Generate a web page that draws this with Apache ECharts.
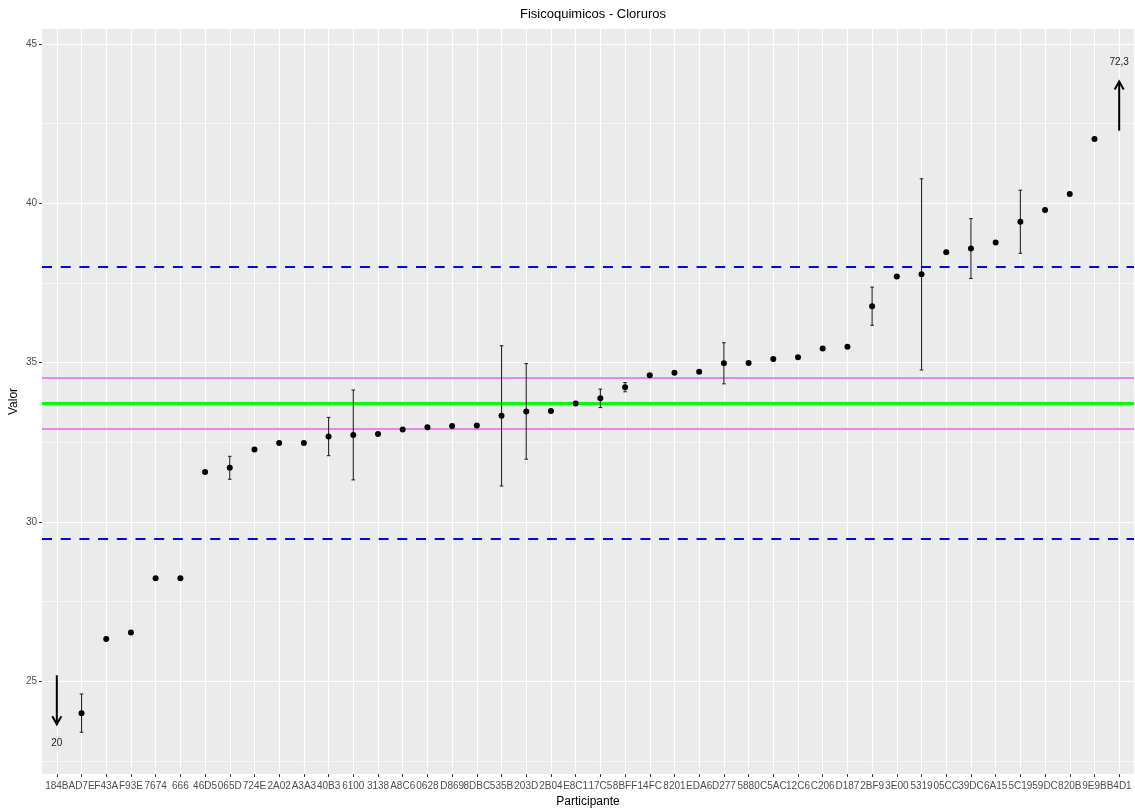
<!DOCTYPE html>
<html>
<head>
<meta charset="utf-8">
<script src="https://cdn.jsdelivr.net/npm/echarts@6/dist/echarts.min.js"></script>
<style>
html,body{margin:0;padding:0;background:#fff;}
#chart{width:1135px;height:808px;}
</style>
</head>
<body>
<div id="chart"></div>
<script>
// ---- data ----
const categories = ['184B','AD7E','F43A','F93E','7674','666','46D5','065D','724E','2A02','A3A3','40B3','6100','3138','A8C6','0628','D869','8DBC','535B','203D','2B04','E8C1','17C5','8BFF','14FC','8201','EDA6','D277','5880','C5AC','12C6','C206','D187','2BF9','3E00','5319','05CC','39DC','6A15','5C19','59DC','820B','9E9B','B4D1'];
const values = [20, 24.0, 26.33, 26.53, 28.23, 28.23, 31.57, 31.70, 32.27, 32.48, 32.48, 32.68, 32.73, 32.76, 32.90, 32.97, 33.01, 33.03, 33.33, 33.47, 33.48, 33.72, 33.88, 34.23, 34.60, 34.68, 34.71, 34.98, 34.99, 35.11, 35.17, 35.44, 35.50, 36.77, 37.70, 37.77, 38.46, 38.58, 38.77, 39.42, 39.79, 40.29, 42.02, 72.3];
const uncertainty = [null, 0.6, null, null, null, null, null, 0.36, null, null, null, 0.6, 1.41, null, null, null, null, null, 2.2, 1.5, null, null, 0.29, 0.145, null, null, null, 0.645, null, null, null, null, null, 0.6, null, 3.0, null, 0.94, null, 0.99, null, null, null, null];
const assignedValue = 33.73;
const innerLimits = [32.92, 34.54];
const outerLimits = [29.47, 38.0];
const yTicks = [25, 30, 35, 40, 45];
const yMinorTicks = [22.5, 27.5, 32.5, 37.5, 42.5];
const yRange = [22.09, 45.47];
const xRange = [-0.6, 43.6];
// annotation arrows for out-of-range values: [from, to, labelY]
const arrowLow = [25.19, 23.65, 23.05];
const arrowHigh = [42.28, 43.82, 44.42];

// ---- derived ----
const xIdx = categories.map((c, i) => i);
const pointData = values.map((v, i) => [i, v]);
const errData = [];
uncertainty.forEach((u, i) => { if (u != null) errData.push([i, values[i] - u, values[i] + u]); });
const arrowData = [];
const arrowLabels = [];
values.forEach((v, i) => {
  const lbl = String(v).replace('.', ',');
  if (v < yRange[0]) { arrowData.push([i, arrowLow[0], arrowLow[1], arrowLow[2]]); arrowLabels.push(lbl); }
  else if (v > yRange[1]) { arrowData.push([i, arrowHigh[0], arrowHigh[1], arrowHigh[2]]); arrowLabels.push(lbl); }
});

const chart = echarts.init(document.getElementById('chart'), null, {renderer: 'canvas'});
const axisLabelColor = '#4D4D4D';
const fontFam = '"Liberation Sans", Arial, sans-serif';

const option = {
  animation: false,
  backgroundColor: '#FFFFFF',
  title: {
    text: 'Fisicoquimicos - Cloruros',
    left: 588, top: 3, textAlign: 'center',
    textStyle: {fontFamily: fontFam, fontSize: 13, fontWeight: 'normal', color: '#000'}
  },
  grid: {left: 42, right: 1, top: 29, bottom: 34, show: true, backgroundColor: '#EBEBEB', borderWidth: 0,
         containLabel: false, outerBoundsMode: 'none'},
  xAxis: {
    type: 'value', min: xRange[0], max: xRange[1],
    name: 'Participante', nameLocation: 'middle', nameGap: 22,
    nameTextStyle: {fontFamily: fontFam, fontSize: 12, color: '#000'},
    axisLine: {show: false, onZero: false},
    axisTick: {show: true, length: 3, lineStyle: {color: '#333333', width: 1}, customValues: xIdx},
    axisLabel: {
      customValues: xIdx, margin: 7, hideOverlap: false,
      fontFamily: fontFam, fontSize: 10, color: axisLabelColor,
      formatter: v => categories[Math.round(v)]
    },
    splitLine: {show: true, lineStyle: {color: '#FFFFFF', width: 1.1}}
  },
  yAxis: [{
    type: 'value', min: yRange[0], max: yRange[1], position: 'left',
    name: 'Valor', nameLocation: 'middle', nameGap: 22, nameMoveOverlap: false,
    nameTextStyle: {fontFamily: fontFam, fontSize: 12, color: '#000'},
    axisLine: {show: false, onZero: false},
    axisTick: {show: true, length: 3, lineStyle: {color: '#333333', width: 1}, customValues: yTicks},
    axisLabel: {customValues: yTicks, margin: 5, fontFamily: fontFam, fontSize: 10, color: axisLabelColor},
    splitLine: {show: true, lineStyle: {color: '#FFFFFF', width: 1.1}}
  }, {
    type: 'value', min: yRange[0], max: yRange[1], position: 'right',
    axisLine: {show: false, onZero: false},
    axisTick: {show: false, customValues: yMinorTicks},
    axisLabel: {show: false, customValues: yMinorTicks},
    splitLine: {show: true, lineStyle: {color: '#FFFFFF', width: 0.55}}
  }],
  series: [
    {
      type: 'line', data: [], silent: true, z: 1,
      markLine: {
        silent: true, z: 1, symbol: ['none', 'none'], label: {show: false},
        data: [
          {yAxis: outerLimits[0], lineStyle: {color: '#0000FF', width: 2.2, type: [10, 8.7]}},
          {yAxis: outerLimits[1], lineStyle: {color: '#0000FF', width: 2.2, type: [10, 8.7]}},
          {yAxis: innerLimits[0], lineStyle: {color: '#EE82EE', width: 2.2, type: 'solid'}},
          {yAxis: innerLimits[1], lineStyle: {color: '#EE82EE', width: 2.2, type: 'solid'}},
          {yAxis: assignedValue, lineStyle: {color: '#00FF00', width: 3.2, type: 'solid'}}
        ]
      }
    },
    {
      type: 'custom', z: 8, data: errData, silent: true,
      renderItem: function (params, api) {
        const x = api.value(0);
        const lo = api.coord([x, api.value(1)]);
        const hi = api.coord([x, api.value(2)]);
        const cw = 1.8;
        const style = {stroke: '#262626', lineWidth: 1.1};
        return {type: 'group', children: [
          {type: 'line', shape: {x1: lo[0], y1: lo[1], x2: hi[0], y2: hi[1]}, style: style},
          {type: 'line', shape: {x1: lo[0] - cw, y1: lo[1], x2: lo[0] + cw, y2: lo[1]}, style: style},
          {type: 'line', shape: {x1: hi[0] - cw, y1: hi[1], x2: hi[0] + cw, y2: hi[1]}, style: style}
        ]};
      }
    },
    {
      type: 'scatter', z: 10, data: pointData, symbolSize: 6, clip: true,
      itemStyle: {color: '#000000', opacity: 1}
    },
    {
      type: 'custom', z: 10, data: arrowData, silent: true,
      renderItem: function (params, api) {
        const x = api.value(0);
        const a = api.coord([x, api.value(1)]);
        const b = api.coord([x, api.value(2)]);
        const t = api.coord([x, api.value(3)]);
        const dir = b[1] > a[1] ? 1 : -1;
        const hl = 8, hw = 4.5;
        const style = {stroke: '#000', lineWidth: 2, fill: null, lineJoin: 'miter'};
        return {type: 'group', children: [
          {type: 'line', shape: {x1: a[0], y1: a[1], x2: b[0], y2: b[1]}, style: style},
          {type: 'polyline', shape: {points: [[b[0] - hw, b[1] - dir * hl], [b[0], b[1]], [b[0] + hw, b[1] - dir * hl]]}, style: style},
          {type: 'text', x: t[0], y: t[1], style: {text: arrowLabels[params.dataIndex], fontFamily: fontFam, fontSize: 10, fill: '#1a1a1a', align: 'center', verticalAlign: 'middle'}}
        ]};
      },
      encode: {x: 0, y: 1}
    }
  ]
};
chart.setOption(option);
</script>
</body>
</html>
